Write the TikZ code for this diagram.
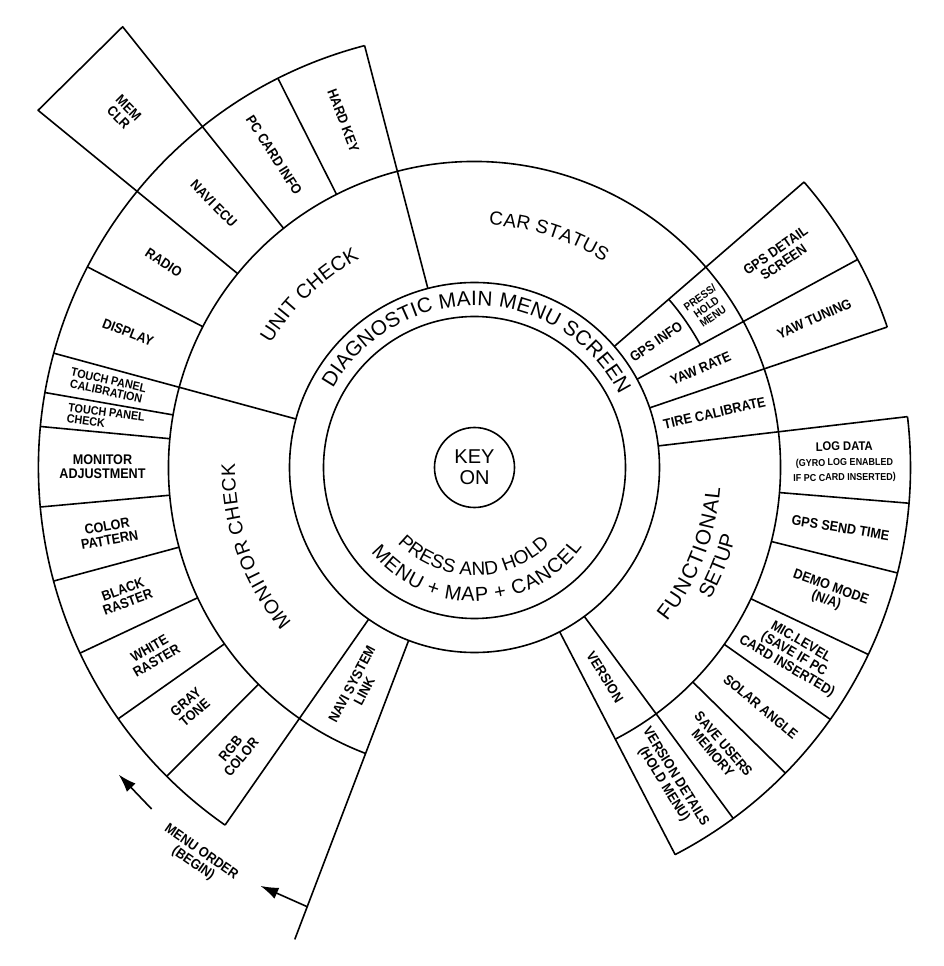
\documentclass[tikz,border=0pt]{standalone}
\usepackage{fontspec}
\setmainfont{Liberation Sans}
\newfontfamily\cndfam[FakeStretch=0.9]{Liberation Sans}
\usetikzlibrary{decorations.text,arrows.meta}
\newcommand\lblfont{\cndfam\bfseries\fontsize{14}{14}\selectfont}
\newcommand\smlfont{\cndfam\bfseries\fontsize{12}{11.5}\selectfont}
\newcommand\tnyfont{\cndfam\bfseries\fontsize{11}{11.5}\selectfont}
\newcommand\parfont{\cndfam\bfseries\fontsize{10}{15}\selectfont}
\newcommand\bigsz[1]{\fontsize{#1}{#1}\selectfont}
\begin{document}
\begin{tikzpicture}[x=1pt,y=1pt,line width=1.6pt,line join=round,
  lab/.style={font=\lblfont,align=center,inner sep=0pt},
  arr/.style={-{Latex[length=18pt,width=12pt]}}]
\useasboundingbox (-474.5,-498.5) rectangle (469.5,467.5);
\coordinate (O) at (0,0);
% rings
\draw (O) circle[radius=40pt];
\draw (O) circle[radius=151pt];
\draw (O) circle[radius=185pt];
\draw (-62.6:306) arc[start angle=-62.6,end angle=249.15,radius=306pt];
\draw (104.6:436) arc[start angle=104.6,end angle=235.1,radius=436pt];
\draw (18.8:436) arc[start angle=18.8,end angle=40.9,radius=436pt];
\draw (-62.6:436) arc[start angle=-62.6,end angle=6.7,radius=436pt];
\draw (28.5:257) arc[start angle=28.5,end angle=40.9,radius=257pt];
% radial lines
\foreach \a in {104.6,164.8,235.1,-62.6,-53.6,6.7,18.8,28.5,40.9}
  \draw (\a:185) -- (\a:436);
\foreach \a in {116.8,152.6,170.1,174.6,185.2,195.1,205.2,215.2,225.1,-44.5,-35.3,-25.4,-14,-4.7}
  \draw (\a:306) -- (\a:436);
\draw (128.6:306) -- (128.6:564) -- (140.7:564) -- (140.7:306);
\draw (249.15:185) -- (249.15:505);
% arrows
\coordinate (a1s) at (226.6:470);
\coordinate (a1e) at (220.8:470);
\coordinate (a2s) at (249.15:470);
\coordinate (a2e) at (242.9:470);
\draw[arr] (a1s) -- (a1e);
\draw[arr] (a2s) -- (a2e);
% centre
\node[align=center,font=\bigsz{20},inner sep=0pt] (key) at (O) {KEY\\[1pt]ON};
% curved big labels
\path[decorate,decoration={text along path,text align=fit to path,
  text={|\bigsz{20.8}|DIAGNOSTIC MAIN MENU SCREEN}}]
  (150.9:162) arc[start angle=150.9,end angle=26.6,radius=162pt];
\path[decorate,decoration={text along path,text align=fit to path,
  text={|\bigsz{20}|UNIT CHECK}}]
  (148.7:238.5) arc[start angle=148.7,end angle=118.8,radius=238.5pt];
\path[decorate,decoration={text along path,text align=fit to path,
  text={|\bigsz{19}|CAR STATUS}}]
  (86.6:243) arc[start angle=86.6,end angle=57.8,radius=243pt];
\path[decorate,decoration={text along path,text align=fit to path,
  text={|\bigsz{19.5}|MONITOR CHECK}}]
  (220.3:239.5) arc[start angle=220.3,end angle=179.1,radius=239.5pt];
\path[decorate,decoration={text along path,text align=fit to path,
  text={|\bigsz{21}|FUNCTIONAL}}]
  (-38.6:246.5) arc[start angle=-38.6,end angle=-4.7,radius=246.5pt];
\path[decorate,decoration={text along path,text align=fit to path,
  text={|\bigsz{20.5}|SETUP}}]
  (-29.3:270) arc[start angle=-29.3,end angle=-14.7,radius=270pt];
\path[decorate,decoration={text along path,text align=fit to path,
  text={|\bigsz{19}|PRESS AND HOLD}}]
  (224.5:108) arc[start angle=224.5,end angle=314.3,radius=108pt];
\path[decorate,decoration={text along path,text align=fit to path,
  text={|\bigsz{20}|MENU + MAP + CANCEL}}]
  (219.5:134) arc[start angle=219.5,end angle=323.5,radius=134pt];
% unit check items
\node[lab,rotate=-69.3] (hk) at (110.7:371) {HARD KEY};
\node[lab,rotate=-57.3] (pc) at (122.7:371) {PC CARD INFO};
\node[lab,rotate=-45.35] (ne) at (134.65:371) {NAVI ECU};
\node[lab,rotate=-45.3] (mc) at (134.7:499) {MEM\\CLR};
\node[lab,rotate=-33.35] (ra) at (146.65:372) {RADIO};
\node[lab,rotate=-21.3] (di) at (158.7:372) {DISPLAY};
% monitor check items
\node[lab,font=\smlfont,rotate=-12.55] (tpc) at (167.45:376) {TOUCH PANEL\\CALIBRATION};
\node[lab,font=\smlfont,align=left,rotate=-7.65] (tpk) at (172.35:372) {TOUCH PANEL\\CHECK};
\node[lab,rotate=-0.1] (ma) at (179.9:372) {MONITOR\\ADJUSTMENT};
\node[lab,rotate=10.15] (cp) at (190.15:372) {COLOR\\PATTERN};
\node[lab,rotate=20.15] (br) at (200.15:372) {BLACK\\RASTER};
\node[lab,rotate=30.2] (wr) at (210.2:372) {WHITE\\RASTER};
\node[lab,rotate=40.15] (gt) at (220.15:372) {GRAY\\TONE};
\node[lab,rotate=50.1] (rgb) at (230.1:372) {RGB\\COLOR};
\node[lab,rotate=62.1] (nsl) at (242.1:249) {NAVI SYSTEM\\LINK};
% car status items
\node[lab,rotate=34.7] (gi) at (34.7:221) {GPS INFO};
\node[lab,font=\tnyfont,rotate=34.7] (phm) at (34.7:282) {PRESS/\\HOLD\\MENU};
\node[lab,rotate=23.65] (yr) at (23.65:247) {YAW RATE};
\node[lab,rotate=12.75] (tc) at (12.75:246) {TIRE CALIBRATE};
\node[lab,rotate=34.7] (gds) at (34.7:371) {GPS DETAIL\\SCREEN};
\node[lab,rotate=23.65] (yt) at (23.65:371) {YAW TUNING};
% functional setup items
\node[lab,font=\parfont,rotate=0.8] (ld) at (0.8:370) {{\fontsize{12.5}{15}\selectfont LOG DATA}\\(GYRO LOG ENABLED\\IF PC CARD INSERTED)};
\node[lab,rotate=-9.35] (gst) at (-9.35:371) {GPS SEND TIME};
\node[lab,rotate=-19.7] (dm) at (-19.7:376) {DEMO MODE\\(N/A)};
\node[lab,rotate=-30.35] (ml) at (-30.35:370) {MIC.LEVEL\\(SAVE IF PC\\CARD INSERTED)};
\node[lab,rotate=-39.9] (sa) at (-39.9:373) {SOLAR ANGLE};
\node[lab,rotate=-49.05] (sum) at (-49.05:372) {SAVE USERS\\MEMORY};
\node[lab,rotate=-58.1] (ver) at (-58.1:247) {VERSION};
\node[lab,rotate=-58.1] (vd) at (-58.1:369) {VERSION DETAILS\\(HOLD MENU)};
% menu order
\node[lab,rotate=-35] (mo) at (234.6:479) {MENU ORDER\\(BEGIN)};
\end{tikzpicture}
\end{document}
